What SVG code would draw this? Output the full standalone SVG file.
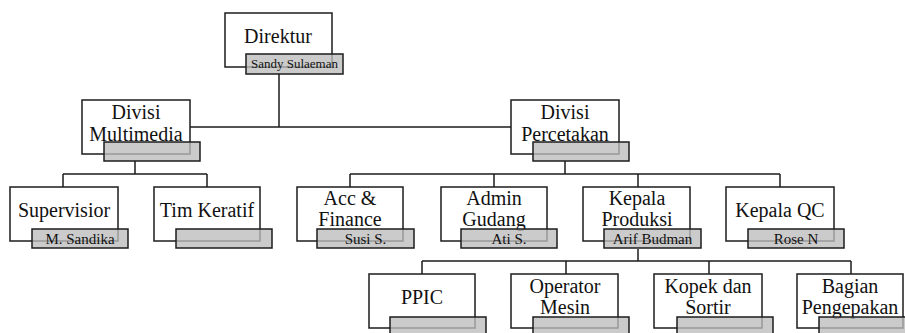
<svg xmlns="http://www.w3.org/2000/svg" width="905" height="333" viewBox="0 0 905 333">
<style>
.box{fill:#fff;stroke:#1c1c1c;stroke-width:1.5}
.nb{fill:#bdbdbd;fill-opacity:0.78;stroke:#1c1c1c;stroke-width:1.5}
.t{font-family:"Liberation Serif","Times New Roman",serif;font-size:20px;fill:#111;text-anchor:middle}
.n{font-family:"Liberation Serif","Times New Roman",serif;font-size:15px;fill:#111;text-anchor:middle}
.c{fill:none;stroke:#1c1c1c;stroke-width:1.5}
</style>
<rect width="905" height="333" fill="#fff"/>
<g id="connectors">
<path class="c" d="M279 74V127M190 127H511"/>
<path class="c" d="M135 161V174M63 174H207M63 174V187M207 174V187"/>
<path class="c" d="M565 161V174M350 174H780M350 174V187M494 174V187M638 174V187M780 174V187"/>
<path class="c" d="M638 249V261M422 261H851M422 261V274M566 261V274M709 261V274M851 261V274"/>
</g>
<g id="direktur">
<rect class="box" x="225" y="13" width="107" height="54"/>
<text class="t" x="278" y="43">Direktur</text>
<rect class="nb" x="246" y="54" width="97" height="20"/>
<text class="n" x="294.5" y="68" style="font-size:13px">Sandy Sulaeman</text>
</g>
<g id="divisi-multimedia">
<rect class="box" x="82" y="100" width="108" height="54"/>
<text class="t" x="136" y="119">Divisi</text>
<text class="t" x="136" y="141">Multimedia</text>
<rect class="nb" x="104" y="142" width="96" height="19"/>
</g>
<g id="divisi-percetakan">
<rect class="box" x="511" y="100" width="108" height="54"/>
<text class="t" x="565" y="119">Divisi</text>
<text class="t" x="565" y="141">Percetakan</text>
<rect class="nb" x="533" y="142" width="96" height="19"/>
</g>
<g id="supervisior">
<rect class="box" x="10" y="187" width="108" height="54"/>
<text class="t" x="64" y="217">Supervisior</text>
<rect class="nb" x="32" y="229" width="96" height="19"/>
<text class="n" x="80" y="243.5">M. Sandika</text>
</g>
<g id="tim-keratif">
<rect class="box" x="154" y="187" width="106" height="54"/>
<text class="t" x="207" y="217">Tim Keratif</text>
<rect class="nb" x="176" y="229" width="96" height="19"/>
</g>
<g id="acc-finance">
<rect class="box" x="297" y="187" width="106" height="54"/>
<text class="t" x="350" y="205">Acc &amp;</text>
<text class="t" x="350" y="226">Finance</text>
<rect class="nb" x="317" y="229" width="97" height="19"/>
<text class="n" x="365.5" y="244">Susi S.</text>
</g>
<g id="admin-gudang">
<rect class="box" x="441" y="187" width="106" height="54"/>
<text class="t" x="494" y="205">Admin</text>
<text class="t" x="494" y="226">Gudang</text>
<rect class="nb" x="461" y="229" width="96" height="19"/>
<text class="n" x="509" y="244">Ati S.</text>
</g>
<g id="kepala-produksi">
<rect class="box" x="583" y="187" width="107" height="54"/>
<text class="t" x="637" y="205">Kepala</text>
<text class="t" x="637" y="226">Produksi</text>
<rect class="nb" x="604" y="229" width="97" height="19"/>
<text class="n" x="652.5" y="244">Arif Budman</text>
</g>
<g id="kepala-qc">
<rect class="box" x="726" y="187" width="108" height="54"/>
<text class="t" x="780" y="217">Kepala QC</text>
<rect class="nb" x="748" y="229" width="96" height="19"/>
<text class="n" x="796" y="244">Rose N</text>
</g>
<g id="ppic">
<rect class="box" x="369" y="274" width="106" height="54"/>
<text class="t" x="422" y="304">PPIC</text>
<rect class="nb" x="390" y="317" width="96" height="20"/>
</g>
<g id="operator-mesin">
<rect class="box" x="511" y="274" width="107" height="54"/>
<text class="t" x="565" y="293">Operator</text>
<text class="t" x="565" y="314">Mesin</text>
<rect class="nb" x="533" y="317" width="96" height="20"/>
</g>
<g id="kopek-sortir">
<rect class="box" x="654" y="274" width="108" height="54"/>
<text class="t" x="708" y="293">Kopek dan</text>
<text class="t" x="708" y="314">Sortir</text>
<rect class="nb" x="677" y="317" width="96" height="20"/>
</g>
<g id="bagian-pengepakan">
<rect class="box" x="797" y="274" width="106" height="54"/>
<text class="t" x="850" y="293">Bagian</text>
<text class="t" x="850" y="314">Pengepakan</text>
<rect class="nb" x="819" y="317" width="96" height="20"/>
</g>
</svg>
